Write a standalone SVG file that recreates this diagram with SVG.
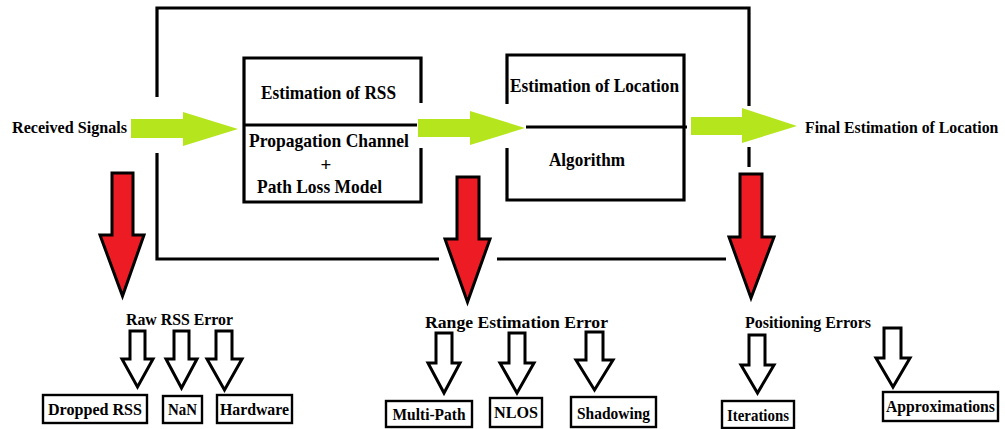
<svg xmlns="http://www.w3.org/2000/svg" width="1005" height="429" viewBox="0 0 1005 429">
<style>
.t{font-family:'Liberation Serif', 'Times New Roman', Times, serif;font-weight:bold;fill:#000}
.big{font-size:19px}
.mid{font-size:17.5px}
.sm{font-size:16.5px}
.frame{fill:none;stroke:#000;stroke-width:3.2;stroke-linecap:butt}
.bx{fill:#fff;stroke:#000;stroke-width:2.4}
.green{fill:#b5e61d;stroke:none}
.red{fill:#ed1c24;stroke:#000;stroke-width:3;stroke-linejoin:miter}
.hollow{fill:#fff;stroke:#000;stroke-width:3;stroke-linejoin:miter}
</style>
<rect width="1005" height="429" fill="#fff"/>
<g id="connectors">
  <path class="frame" d="M157,97 V8 H749 V106"/>
  <path class="frame" d="M157,153 V259 H439"/>
  <path class="frame" d="M497,259 H726"/>
  <path class="frame" d="M749,147 V167"/>
  <polygon class="green" points="131,119 183,119 183,112 238,129 183,146 183,138 131,138"/>
  <polygon class="green" points="418,119 470,119 470,111 525,128 470,145 470,137 418,137"/>
  <polygon class="green" points="691,117 742,117 742,108 797,126 742,143 742,135 691,135"/>
  <polygon class="red" points="112,173 133,173 133,235 144,235 122.5,296 100,235 112,235"/>
  <polygon class="red" points="457,177 479,177 479,239 490,239 467.5,302 445,239 457,239"/>
  <polygon class="red" points="740,174 762,174 762,237 774,237 751,298 729,237 740,237"/>
  <polygon class="hollow" points="130,331 145,331 145,359 153,359 137.5,387 122,359 130,359"/>
  <polygon class="hollow" points="174,331 189,331 189,359 197,359 181.5,388 166,359 174,359"/>
  <polygon class="hollow" points="216,331 232,331 232,359 242,359 224.5,390 207,359 216,359"/>
  <polygon class="hollow" points="436,333 452,333 452,363 460,363 444,393 428,363 436,363"/>
  <polygon class="hollow" points="509,333 525,333 525,363 534,363 517,393 500,363 509,363"/>
  <polygon class="hollow" points="586,332 603,332 603,360 613,360 594.5,390 576,360 586,360"/>
  <polygon class="hollow" points="749,335 765,335 765,365 774,365 757.5,393 741,365 749,365"/>
  <polygon class="hollow" points="884,328 901,328 901,358 910,358 893,387 876,358 884,358"/>
</g>
<g id="received-signals">
  <text class="t mid" x="12" y="132.5" textLength="115" lengthAdjust="spacingAndGlyphs">Received Signals</text>
</g>
<g id="final-estimation">
  <text class="t" font-size="15.8" transform="translate(805,132.5) scale(1,1.1)" x="0" y="0">Final Estimation of Location</text>
</g>
<g id="box-rss">
  <path class="frame" d="M421,103 V58 H244 V202 H421 V148"/>
  <path class="frame" d="M244,125 H417"/>
  <text class="t big" x="328.5" y="98.5" text-anchor="middle" textLength="135" lengthAdjust="spacingAndGlyphs">Estimation of RSS</text>
  <text class="t big" x="329" y="147" text-anchor="middle" textLength="160" lengthAdjust="spacingAndGlyphs">Propagation Channel</text>
  <text class="t big" x="326" y="171" text-anchor="middle" font-size="21">+</text>
  <text class="t big" x="319.5" y="193" text-anchor="middle" textLength="125" lengthAdjust="spacingAndGlyphs">Path Loss Model</text>
</g>
<g id="box-location">
  <path class="frame" d="M507,104 V55 H684 V200 H507 V148"/>
  <path class="frame" d="M526,127 H687"/>
  <text class="t big" x="594.5" y="91.5" text-anchor="middle" textLength="169" lengthAdjust="spacingAndGlyphs">Estimation of Location</text>
  <text class="t big" x="587" y="165.5" text-anchor="middle" textLength="76" lengthAdjust="spacingAndGlyphs">Algorithm</text>
</g>
<g id="raw-rss-error">
  <text class="t sm" x="179.5" y="325" text-anchor="middle" textLength="107" lengthAdjust="spacingAndGlyphs">Raw RSS Error</text>
</g>
<g id="range-error">
  <text class="t sm" x="516.5" y="328" text-anchor="middle" textLength="183" lengthAdjust="spacingAndGlyphs">Range Estimation Error</text>
</g>
<g id="positioning-errors">
  <text class="t sm" x="808" y="328" text-anchor="middle" textLength="126" lengthAdjust="spacingAndGlyphs">Positioning Errors</text>
</g>
<g id="dropped-rss">
  <rect class="bx" x="43" y="395" width="104" height="28"/>
  <text class="t sm" x="95" y="414.5" text-anchor="middle" textLength="94" lengthAdjust="spacingAndGlyphs">Dropped RSS</text>
</g>
<g id="nan">
  <rect class="bx" x="163" y="396" width="39" height="27"/>
  <text class="t sm" x="182.5" y="415" text-anchor="middle" textLength="29" lengthAdjust="spacingAndGlyphs">NaN</text>
</g>
<g id="hardware">
  <rect class="bx" x="217" y="395" width="75" height="28"/>
  <text class="t sm" x="254.5" y="414.5" text-anchor="middle" textLength="69" lengthAdjust="spacingAndGlyphs">Hardware</text>
</g>
<g id="multi-path">
  <rect class="bx" x="386" y="401" width="86" height="26"/>
  <text class="t sm" x="429" y="419.5" text-anchor="middle" textLength="73" lengthAdjust="spacingAndGlyphs">Multi-Path</text>
</g>
<g id="nlos">
  <rect class="bx" x="490" y="398" width="52" height="29"/>
  <text class="t sm" x="516" y="418" text-anchor="middle" textLength="44" lengthAdjust="spacingAndGlyphs">NLOS</text>
</g>
<g id="shadowing">
  <rect class="bx" x="571" y="397" width="85" height="30"/>
  <text class="t sm" x="613.5" y="418.5" text-anchor="middle" textLength="73" lengthAdjust="spacingAndGlyphs">Shadowing</text>
</g>
<g id="iterations">
  <rect class="bx" x="722" y="401" width="72" height="27"/>
  <text class="t sm" x="758" y="420.5" text-anchor="middle" textLength="62" lengthAdjust="spacingAndGlyphs">Iterations</text>
</g>
<g id="approximations">
  <rect class="bx" x="883" y="392" width="115" height="29"/>
  <text class="t sm" x="940.5" y="411.5" text-anchor="middle" textLength="109" lengthAdjust="spacingAndGlyphs">Approximations</text>
</g>
</svg>
